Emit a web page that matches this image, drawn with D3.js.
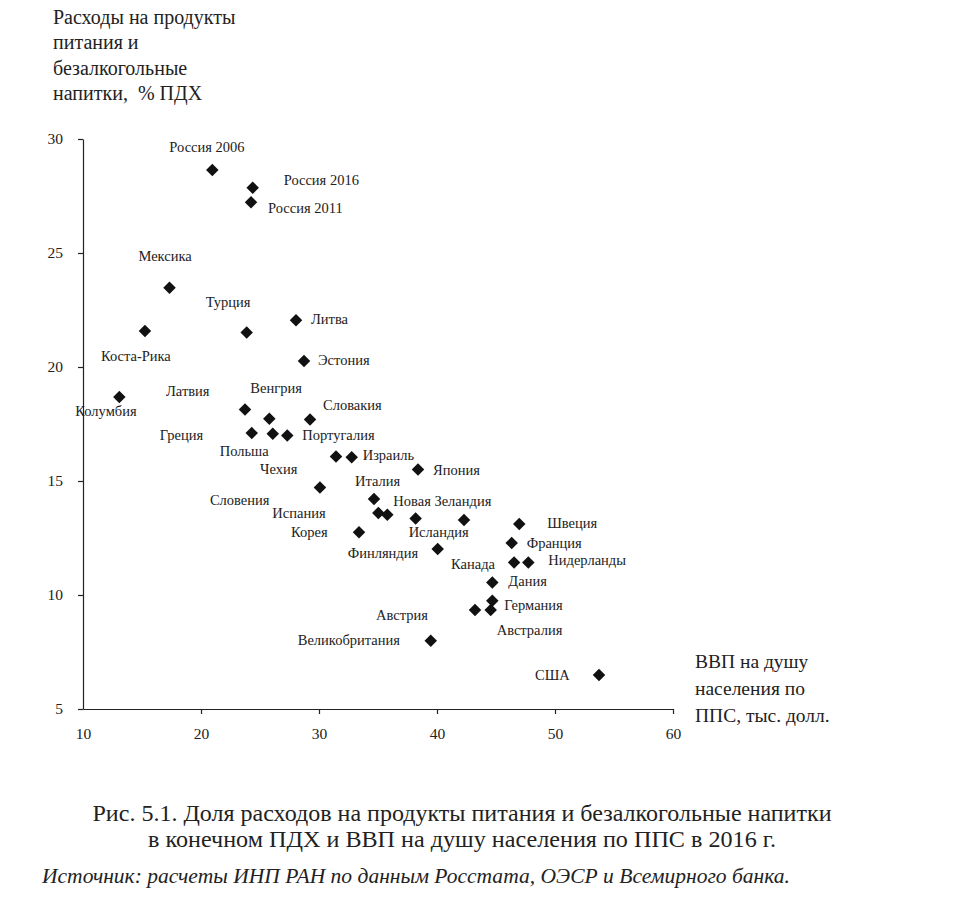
<!DOCTYPE html>
<html>
<head>
<meta charset="utf-8">
<script src="https://cdn.jsdelivr.net/npm/d3@7"></script>
<style>
  html, body { margin: 0; padding: 0; background: #fff; }
  svg { display: block; font-family: "Liberation Serif", "Times New Roman", serif; }
</style>
</head>
<body>
<svg id="chart" width="967" height="906"></svg>
<script>
// ---- data ----
const countries = [
  "Россия 2006", "Россия 2016", "Россия 2011", "Мексика", "Коста-Рика", "Турция",
  "Литва", "Эстония", "Колумбия", "Латвия", "Венгрия", "Словакия",
  "Греция", "Польша", "Португалия", "Чехия", "Израиль", "Япония",
  "Словения", "Италия", "Испания", "Новая Зеландия", "Исландия", "",
  "Корея", "Финляндия", "Швеция", "Франция", "Канада", "Нидерланды",
  "Дания", "Германия", "Австралия", "Австрия", "Великобритания", "США"
];
const gdpPerCapita = [
  20.96, 24.38, 24.24, 17.33, 15.25, 23.87,
  28.05, 28.73, 13.08, 23.73, 25.79, 29.24,
  24.30, 26.08, 27.31, 31.44, 32.77, 38.39,
  30.08, 34.66, 35.03, 35.79, 38.19, 42.29,
  33.39, 40.06, 46.97, 46.33, 46.53, 47.74,
  44.69, 44.69, 44.55, 43.22, 39.47, 53.73
];
const foodShare = [
  28.64, 27.86, 27.23, 23.48, 21.58, 21.51,
  22.05, 20.26, 18.68, 18.14, 17.73, 17.70,
  17.10, 17.07, 17.00, 16.07, 16.04, 15.50,
  14.72, 14.21, 13.60, 13.52, 13.36, 13.29,
  12.75, 12.02, 13.11, 12.28, 11.43, 11.43,
  10.55, 9.75, 9.34, 9.34, 7.99, 6.49
];
const xTicks = [10, 20, 30, 40, 50, 60];
const yTicks = [5, 10, 15, 20, 25, 30];
const yTitle = ["Расходы на продукты", "питания и", "безалкогольные", "напитки,  % ПДХ"];
const xTitle = ["ВВП на душу", "населения по", "ППС, тыс. долл."];
const captionLines = [
  "Рис. 5.1. Доля расходов на продукты питания и безалкогольные напитки",
  "в конечном ПДХ и ВВП на душу населения по ППС в 2016 г."
];
const sourceText = "Источник: расчеты ИНП РАН по данным Росстата, ОЭСР и Всемирного банка.";

// ---- label layout (pixel offsets from each marker) ----
const labelOffsets = [
  [-43, -18], [31, -3], [17, 11], [-31, -27], [-44, 30], [-41, -26],
  [15, 4], [14, 4], [-44, 19], [-79, -13], [-19, -26], [13, -9],
  [-92, 7], [-53, 22], [15, 5], [-76, 17], [11, 3], [15, 5],
  [-110, 18], [-19, -13], [-106, 5], [6, -9], [-7, 19], [0, 0],
  [-68, 5], [-90, 9], [28, 4], [15, 5], [-63, 7], [20, 3],
  [16, 4], [12, 9], [6, 25], [-99, 10], [-133, 4], [-64, 5]
];

const data = countries.map((c, i) => ({
  name: c, x: gdpPerCapita[i], y: foodShare[i], off: labelOffsets[i]
}));

const svg = d3.select("#chart");
const mLeft = 83, mRight = 673, mTop = 139, mBottom = 709;
const x = d3.scaleLinear().domain([10, 60]).range([mLeft, mRight]);
const y = d3.scaleLinear().domain([5, 30]).range([mBottom, mTop]);
const ink = "#222";

// axes
const gx = svg.append("g").attr("transform", `translate(0,${mBottom})`)
  .call(d3.axisBottom(x).tickValues(xTicks).tickSizeOuter(0).tickSizeInner(5).tickPadding(14).tickFormat(d3.format("d")));
const gy = svg.append("g").attr("transform", `translate(${mLeft},0)`)
  .call(d3.axisLeft(y).tickValues(yTicks).tickSizeOuter(0).tickSizeInner(5).tickPadding(15).tickFormat(d3.format("d")));
[gx, gy].forEach(g => {
  g.select(".domain").attr("stroke", ink).attr("stroke-width", 1.2);
  g.selectAll(".tick line").attr("stroke", ink).attr("stroke-width", 1.2);
  g.selectAll(".tick text").attr("fill", ink)
    .style("font-family", '"Liberation Serif", serif').style("font-size", "15.5px");
});
gx.selectAll(".tick line").filter(d => d === 10).remove();

// markers
const diamond = d3.symbol().type(d3.symbolSquare).size(78);
svg.append("g").selectAll("path").data(data).join("path")
  .attr("d", diamond)
  .attr("transform", d => `translate(${x(d.x)},${y(d.y)}) rotate(45)`)
  .attr("fill", "#111");

// labels
svg.append("g").selectAll("text").data(data.filter(d => d.name)).join("text")
  .attr("x", d => x(d.x) + d.off[0])
  .attr("y", d => y(d.y) + d.off[1])
  .attr("fill", ink)
  .style("font-size", "14.5px")
  .text(d => d.name);

// axis titles
svg.append("g").selectAll("text").data(yTitle).join("text")
  .attr("x", 53).attr("y", (d, i) => 24 + i * 25.3)
  .attr("fill", ink).style("font-size", "20px")
  .attr("xml:space", "preserve")
  .text(d => d);
svg.append("g").selectAll("text").data(xTitle).join("text")
  .attr("x", 695).attr("y", (d, i) => 668 + i * 27)
  .attr("fill", ink).style("font-size", "19.5px")
  .text(d => d);

// caption
svg.append("g").selectAll("text").data(captionLines).join("text")
  .attr("x", 462).attr("y", (d, i) => 821 + i * 26)
  .attr("text-anchor", "middle")
  .attr("fill", ink).style("font-size", "23px")
  .attr("textLength", (d, i) => i === 0 ? 739 : 628)
  .attr("lengthAdjust", "spacingAndGlyphs")
  .text(d => d);
svg.append("text")
  .attr("x", 42).attr("y", 883)
  .attr("fill", ink).style("font-size", "21px").style("font-style", "italic")
  .attr("textLength", 748).attr("lengthAdjust", "spacingAndGlyphs")
  .text(sourceText);
</script>
</body>
</html>
